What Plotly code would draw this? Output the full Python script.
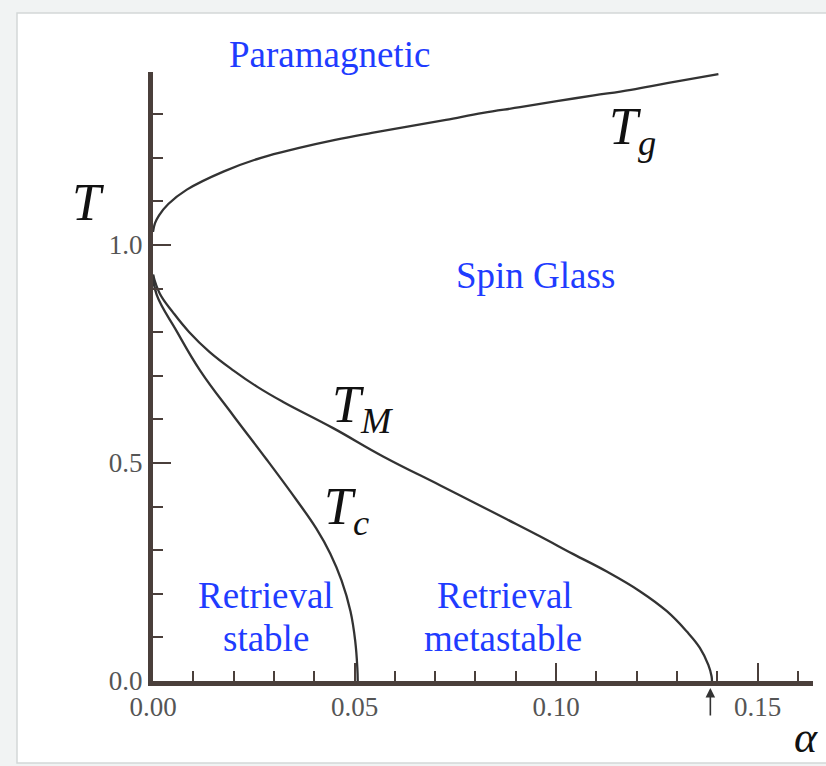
import plotly.graph_objects as go

# ---- data ----
tg_alpha = [0.0, 0.0005, 0.0015, 0.0038, 0.0084, 0.0176, 0.0268, 0.0360, 0.0452, 0.0543, 0.0635,
            0.0727, 0.0819, 0.0911, 0.1002, 0.1094, 0.1186, 0.1279, 0.1403]
tg_T = [1.030, 1.050, 1.068, 1.094, 1.127, 1.169, 1.200, 1.222, 1.241, 1.257, 1.272,
        1.287, 1.303, 1.316, 1.330, 1.343, 1.356, 1.372, 1.392]

tm_alpha = [0.0, 0.0017, 0.0050, 0.0090, 0.0140, 0.0200, 0.0260, 0.0323, 0.0447, 0.0571, 0.0712,
            0.0795, 0.0878, 0.0960, 0.1043, 0.1126, 0.1208, 0.1275, 0.1324, 0.1357, 0.1378,
            0.1386, 0.1387]
tm_T = [0.932, 0.888, 0.845, 0.800, 0.755, 0.712, 0.674, 0.640, 0.580, 0.515, 0.449,
        0.410, 0.371, 0.332, 0.291, 0.251, 0.206, 0.160, 0.114, 0.076, 0.037,
        0.011, 0.0]

tc_alpha = [0.0, 0.0009, 0.0059, 0.0117, 0.0199, 0.0282, 0.0357, 0.0405, 0.0440, 0.0468,
            0.0490, 0.0502, 0.0507, 0.0508]
tc_T = [0.932, 0.886, 0.802, 0.712, 0.609, 0.508, 0.414, 0.350, 0.292, 0.230,
        0.160, 0.090, 0.030, 0.0]

x_ticks = [0.0, 0.05, 0.10, 0.15]
x_tick_labels = ["0.00", "0.05", "0.10", "0.15"]
y_ticks = [0.0, 0.5, 1.0]
y_tick_labels = ["0.0", "0.5", "1.0"]
alpha_c = 0.1383

AXIS = "#4a3f3b"
CURVE = "#333333"
BLUE = "#1f3cff"
SERIF = "Liberation Serif"
PAGE_BG = "#f1f3f3"

fig = go.Figure()
for xs, ys in [(tg_alpha, tg_T), (tm_alpha, tm_T), (tc_alpha, tc_T)]:
    fig.add_trace(go.Scatter(x=xs, y=ys, mode="lines",
                             line=dict(color=CURVE, width=2.3, shape="spline", smoothing=1.2),
                             showlegend=False, hoverinfo="skip"))

L, R, T_, B = 153, 13, 72, 85
W, H = 826, 766
pw, ph = W - L - R, H - T_ - B
xr = [0, pw / 4030.0]
yr = [0, ph / 436.0]

fig.update_layout(
    width=W, height=H,
    margin=dict(l=L, r=R, t=T_, b=B, pad=0),
    paper_bgcolor=PAGE_BG,
    plot_bgcolor="rgba(0,0,0,0)",
    showlegend=False,
    xaxis=dict(range=xr, showgrid=False, zeroline=False, showline=True,
               linecolor=AXIS, linewidth=5,
               tickmode="array", tickvals=x_ticks, ticktext=x_tick_labels,
               ticks="inside", ticklen=18, tickwidth=2.2, tickcolor=AXIS,
               ticklabelstandoff=-2,
               tickfont=dict(family=SERIF, size=27, color="#555555"),
               minor=dict(dtick=0.01, tick0=0, ticks="inside", ticklen=10,
                          tickwidth=2, tickcolor=AXIS)),
    yaxis=dict(range=yr, showgrid=False, zeroline=False, showline=True,
               linecolor=AXIS, linewidth=5,
               tickmode="array", tickvals=y_ticks, ticktext=y_tick_labels,
               ticks="inside", ticklen=18, tickwidth=2.2, tickcolor=AXIS,
               tickfont=dict(family=SERIF, size=27, color="#555555"),
               minor=dict(dtick=0.1, tick0=0, ticks="inside", ticklen=10,
                          tickwidth=2, tickcolor=AXIS)),
)

def px2paper_x(px):
    return (px - L) / pw

def px2paper_y(py):
    return 1 - (py - T_) / ph

# white card behind the chart
fig.add_shape(type="rect", xref="paper", yref="paper", layer="below",
              x0=px2paper_x(17), x1=px2paper_x(840), y0=px2paper_y(763), y1=px2paper_y(13),
              fillcolor="white", line=dict(color="#d3d8d8", width=1.5))

def region(text, x, y):
    fig.add_annotation(x=x, y=y, text=text, showarrow=False, xanchor="center", yanchor="middle",
                       font=dict(family=SERIF, size=37, color=BLUE))

def region_px(text, px, py):
    fig.add_annotation(x=px2paper_x(px), y=px2paper_y(py), xref="paper", yref="paper",
                       text=text, showarrow=False, xanchor="center", yanchor="middle",
                       font=dict(family=SERIF, size=37, color=BLUE))

region_px("Paramagnetic", 329, 55)
region("Spin Glass", 0.0950, 0.931)
region("Retrieval", 0.0280, 0.195)
region("stable", 0.0280, 0.0986)
region("Retrieval", 0.0873, 0.195)
region("metastable", 0.0868, 0.0986)

def mathlabel(text, x, y, xanchor="center", size=52):
    fig.add_annotation(x=x, y=y, text=text, showarrow=False, xanchor=xanchor, yanchor="middle",
                       font=dict(family=SERIF, size=size, color="#111111"))

def mathlabel_px(text, px, py, size=52):
    fig.add_annotation(x=px2paper_x(px), y=px2paper_y(py), xref="paper", yref="paper",
                       text=text, showarrow=False, xanchor="center", yanchor="middle",
                       font=dict(family=SERIF, size=size, color="#111111"))

mathlabel_px("<i>T</i>", 88, 203)
mathlabel("<i>T</i><sub><i>g</i></sub>", 0.1127, 1.262, xanchor="left")
mathlabel("<i>T</i><sub><i>M</i></sub>", 0.0440, 0.625, xanchor="left")
mathlabel("<i>T</i><sub><i>c</i></sub>", 0.0420, 0.392, xanchor="left")
mathlabel_px("<i>α</i>", 806, 737, size=44)

# arrow marking alpha_c
fig.add_annotation(x=alpha_c, y=px2paper_y(688), xref="x", yref="paper",
                   ax=0, ay=29, text="", showarrow=True,
                   arrowhead=2, arrowsize=1.2, arrowwidth=1.6, arrowcolor="#333333")

fig.write_html("out.html",
               config={"displayModeBar": False},
               post_script="document.body.style.margin='0';"
                           "document.body.style.overflow='hidden';"
                           "document.body.style.background='" + PAGE_BG + "';")
